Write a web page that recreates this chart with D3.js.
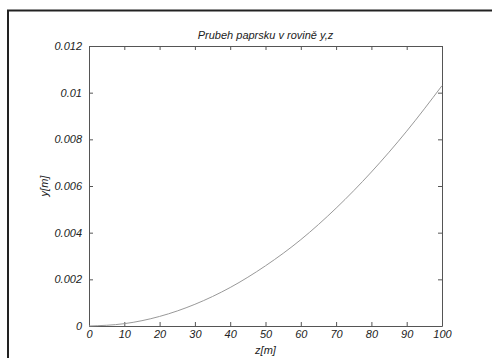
<!DOCTYPE html>
<html>
<head>
<meta charset="utf-8">
<script src="https://cdn.jsdelivr.net/npm/d3@7"></script>
<style>
  body { margin: 0; background: #fff; }
  svg text { font-family: "Liberation Sans", Arial, sans-serif; font-style: italic; fill: #222; }
</style>
</head>
<body>
<svg id="svg"></svg>
<script>
// values
let zValues = [0, 10, 20, 30, 40, 50, 60, 70, 80, 90, 100];
let yValues = [0, 0.0001, 0.00041, 0.00093, 0.00165, 0.00258, 0.0037, 0.00505, 0.0066, 0.00835, 0.0103];
let xTicks = [0, 10, 20, 30, 40, 50, 60, 70, 80, 90, 100];
let yTicks = [0, 0.002, 0.004, 0.006, 0.008, 0.01, 0.012];

const width = 492;
const height = 358;

let svg = d3.select("#svg")
    .attr("width", width)
    .attr("height", height);

// outer frame of the figure
svg.append("path")
    .attr("d", "M8,370 L8,10.5 L500,10.5")
    .attr("fill", "none")
    .attr("stroke", "#222")
    .attr("stroke-width", 2);

const margin = { top: 46, right: 50, bottom: 32, left: 89 };
let chartWidth = width - margin.left - margin.right;
let chartHeight = height - margin.top - margin.bottom;

let chart = svg.append("g")
    .attr("transform", "translate(" + margin.left + "," + margin.top + ")");

let xScale = d3.scaleLinear().domain([0, 100]).range([0, chartWidth]);
let yScale = d3.scaleLinear().domain([0, 0.012]).range([chartHeight, 0]);

let fmtY = d => d === 0 ? "0" : String(+d.toFixed(3));

// bottom / left axes with labels, ticks inward
chart.append("g")
    .attr("class", "x-axis")
    .attr("transform", `translate(0,${chartHeight})`)
    .call(d3.axisBottom(xScale).tickValues(xTicks).tickSizeInner(-4).tickSizeOuter(0).tickPadding(4));

chart.append("g")
    .attr("class", "y-axis")
    .call(d3.axisLeft(yScale).tickValues(yTicks).tickFormat(fmtY).tickSizeInner(-4).tickSizeOuter(0).tickPadding(7));

// top / right axes, ticks only
chart.append("g")
    .call(d3.axisTop(xScale).tickValues(xTicks).tickSizeInner(-4).tickSizeOuter(0).tickFormat(""));

chart.append("g")
    .attr("transform", `translate(${chartWidth},0)`)
    .call(d3.axisRight(yScale).tickValues(yTicks).tickSizeInner(-4).tickSizeOuter(0).tickFormat(""));

chart.selectAll(".domain").attr("stroke", "#555");
chart.selectAll(".tick line").attr("stroke", "#555");
chart.selectAll(".tick text").style("font-size", "11px").attr("fill", "#222");

// the beam path
let line = d3.line()
    .x((d, i) => xScale(zValues[i]))
    .y(d => yScale(d))
    .curve(d3.curveMonotoneX);

chart.append("path")
    .datum(yValues)
    .attr("fill", "none")
    .attr("stroke", "#999")
    .attr("stroke-width", 1)
    .attr("d", line);

// title and axis titles
svg.append("text")
    .attr("x", margin.left + chartWidth / 2)
    .attr("y", 39)
    .attr("text-anchor", "middle")
    .style("font-size", "11px")
    .text("Prubeh paprsku v rovině y,z");

svg.append("text")
    .attr("x", margin.left + chartWidth / 2)
    .attr("y", 354)
    .attr("text-anchor", "middle")
    .style("font-size", "11px")
    .text("z[m]");

svg.append("text")
    .attr("transform", "rotate(-90)")
    .attr("x", -(margin.top + chartHeight / 2))
    .attr("y", 48)
    .attr("text-anchor", "middle")
    .style("font-size", "11px")
    .text("y[m]");
</script>
</body>
</html>
